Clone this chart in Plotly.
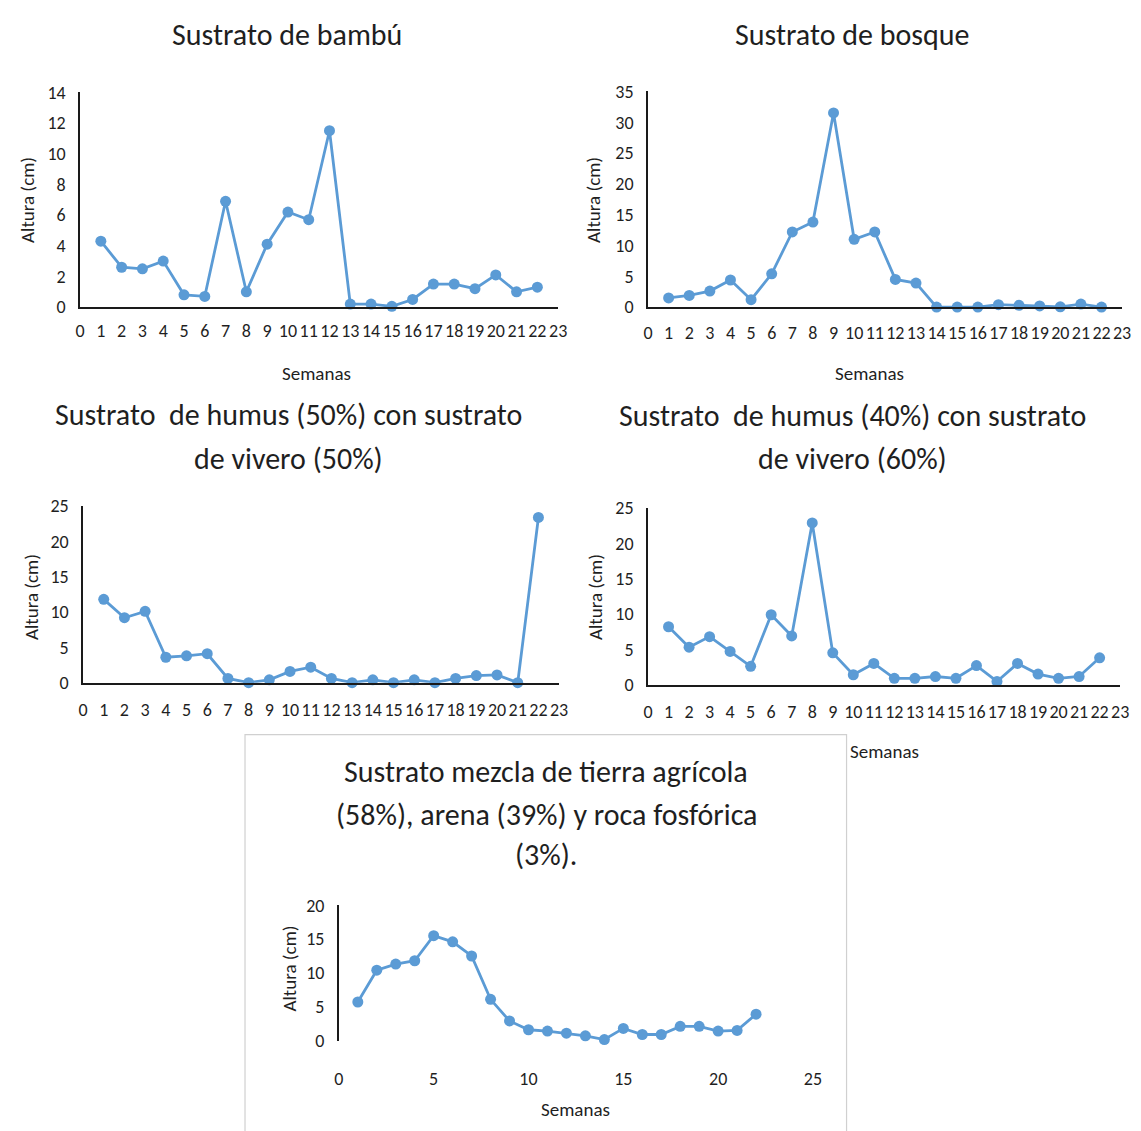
import plotly.graph_objects as go

# Semanas de medición (1..22) y altura de la plántula (cm) por sustrato
semanas = list(range(1, 23))

altura_bambu = [4.3, 2.6, 2.5, 3.0, 0.8, 0.7, 6.9, 1.0, 4.1, 6.2, 5.7, 11.5,
                0.2, 0.2, 0.05, 0.5, 1.5, 1.5, 1.2, 2.1, 1.0, 1.3]
altura_bosque = [1.5, 1.9, 2.6, 4.4, 1.2, 5.4, 12.2, 13.8, 31.5, 11.0, 12.2, 4.5,
                 3.9, 0.0, 0.0, 0.0, 0.4, 0.3, 0.2, 0.05, 0.5, 0.0]
altura_humus50 = [11.8, 9.2, 10.1, 3.6, 3.8, 4.1, 0.6, 0.0, 0.4, 1.6, 2.2, 0.6,
                  0.0, 0.4, 0.0, 0.4, 0.0, 0.6, 1.0, 1.1, 0.0, 23.4]
altura_humus40 = [8.2, 5.3, 6.8, 4.7, 2.6, 9.9, 6.9, 22.9, 4.5, 1.4, 3.0, 0.9,
                  0.9, 1.15, 0.9, 2.7, 0.45, 3.0, 1.5, 0.9, 1.15, 3.8]
altura_mezcla = [5.7, 10.4, 11.3, 11.8, 15.5, 14.6, 12.5, 6.1, 2.9, 1.6, 1.4, 1.1,
                 0.7, 0.15, 1.8, 0.9, 0.9, 2.1, 2.1, 1.4, 1.5, 3.9]

titulos = [
    ["Sustrato de bambú"],
    ["Sustrato de bosque"],
    ["Sustrato  de humus (50%) con sustrato", "de vivero (50%)"],
    ["Sustrato  de humus (40%) con sustrato", "de vivero (60%)"],
    ["Sustrato mezcla de tierra agrícola", "(58%), arena (39%) y roca fosfórica", "(3%)."],
]
titulo_eje_x = "Semanas"
titulo_eje_y = "Altura (cm)"

W, H = 1141, 1131
AZUL = "#5b9bd5"
TEXTO = "#1f1f1f"
FUENTE = "Carlito, Lato, 'Liberation Sans Narrow', sans-serif"


def fx(px):
    return px / W


def fy(py):
    return 1 - py / H


fig = go.Figure()

# (serie, rango y, paso y, rango x, paso x, caja en píxeles: x0, x1, ytop, ybottom,
#  línea del eje x, separación de etiquetas x)
paneles = [
    (altura_bambu, [0, 14], 2, [0, 23], 1, (76, 560, 83, 302), True, 6),
    (altura_bosque, [0, 35], 5, [0, 23], 1, (651, 1131, 82, 302), True, 8),
    (altura_humus50, [0, 25], 5, [0, 23], 1, (79, 561, 505, 685), True, 10),
    (altura_humus40, [0, 25], 5, [0, 23], 1, (651, 1129, 507, 687), True, 10),
    (altura_mezcla, [0, 20], 5, [0, 25], 5, (338, 818, 912, 1050), False, 25),
]

# Recuadro del quinto gráfico
fig.add_shape(type="rect", xref="paper", yref="paper",
              x0=fx(243), x1=fx(852), y0=fy(1145), y1=fy(738),
              line=dict(color="#d0d0d0", width=1.2), fillcolor="white", layer="below")

for i, (serie, yr, ydt, xr, xdt, caja, linea_x, sep_x) in enumerate(paneles, start=1):
    x0, x1, yt, yb = caja
    sfx = "" if i == 1 else str(i)
    fig.add_trace(go.Scatter(
        x=semanas, y=serie, mode="lines+markers",
        line=dict(color=AZUL, width=2.8),
        marker=dict(color=AZUL, size=11, symbol="circle"),
        cliponaxis=False, showlegend=False,
        xaxis="x" + sfx, yaxis="y" + sfx,
    ))
    fig.layout["xaxis" + sfx] = dict(
        domain=[fx(x0), fx(x1)], range=xr, dtick=xdt, tick0=0,
        showgrid=False, zeroline=False, showline=linea_x,
        linecolor="#1a1a1a", linewidth=1.6, ticks="",
        ticklabelstandoff=sep_x,
        tickfont=dict(family=FUENTE, size=18, color=TEXTO),
        anchor="y" + sfx,
    )
    fig.layout["yaxis" + sfx] = dict(
        domain=[fy(yb), fy(yt)], range=yr, dtick=ydt, tick0=0,
        showgrid=False, zeroline=False, showline=True,
        linecolor="#1a1a1a", linewidth=1.6, ticks="",
        ticklabelstandoff=9,
        tickfont=dict(family=FUENTE, size=18, color=TEXTO),
        anchor="x" + sfx,
    )

anotaciones = []


def texto(t, x, y, size, angle=0):
    anotaciones.append(dict(
        text=t, x=fx(x), y=fy(y), xref="paper", yref="paper",
        showarrow=False, xanchor="center", yanchor="middle", textangle=angle,
        font=dict(family=FUENTE, size=size, color=TEXTO),
    ))


# Títulos de cada gráfico
posiciones_titulo = [
    (285, [24]),
    (858, [24]),
    (287, [411, 456]),
    (858, [413, 456]),
    (548, [776, 819, 860]),
]
for lineas, (cx, ys) in zip(titulos, posiciones_titulo):
    for linea, yy in zip(lineas, ys):
        texto(linea, cx, yy, 30)

# Títulos de los ejes
for (cx, cy) in [(315, 370), (875, 370), (890, 755), (578, 1120)]:
    texto(titulo_eje_x, cx, cy, 19)
for (cx, cy) in [(23, 193), (596, 193), (27, 598), (598, 598), (288, 976)]:
    texto(titulo_eje_y, cx, cy, 19, angle=-90)

fig.update_layout(
    width=W, height=H, margin=dict(l=0, r=0, t=0, b=0),
    paper_bgcolor="white", plot_bgcolor="rgba(0,0,0,0)",
    annotations=anotaciones,
)

fig.write_html("out.html")
